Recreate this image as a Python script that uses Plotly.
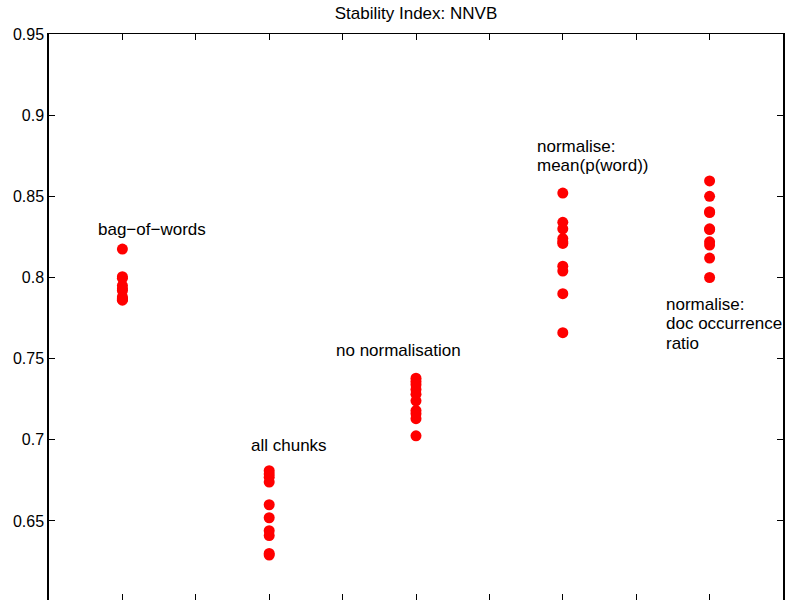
import plotly.graph_objects as go

# Data
group_x = [1, 3, 5, 7, 9]
bag_of_words = [0.8175, 0.8005, 0.7995, 0.795, 0.793, 0.792, 0.788, 0.787, 0.786, 0.7865]
all_chunks = [0.681, 0.679, 0.677, 0.674, 0.660, 0.652, 0.644, 0.641, 0.630, 0.629]
no_normalisation = [0.738, 0.736, 0.734, 0.731, 0.728, 0.724, 0.718, 0.716, 0.713, 0.7025]
norm_mean_p_word = [0.852, 0.834, 0.830, 0.824, 0.822, 0.821, 0.807, 0.804, 0.790, 0.766]
norm_doc_occ = [0.8595, 0.850, 0.8405, 0.840, 0.830, 0.8295, 0.822, 0.820, 0.812, 0.800]
series = [bag_of_words, all_chunks, no_normalisation, norm_mean_p_word, norm_doc_occ]

# label lines (text, x, y in data units)
label_texts = ["bag−of−words", "all chunks", "no normalisation",
               "normalise:", "mean(p(word))",
               "normalise:", "doc occurrence", "ratio"]
label_x = [0.64, 2.72, 3.883, 6.617, 6.617, 8.379, 8.379, 8.379]
label_y = [0.8293, 0.6968, 0.7553, 0.8804, 0.8693, 0.7831, 0.7714, 0.7596]

y_ticks = [0.65, 0.7, 0.75, 0.8, 0.85, 0.9, 0.95]
y_tick_text = ["0.65", "0.7", "0.75", "0.8", "0.85", "0.9", "0.95"]
x_ticks = [1, 2, 3, 4, 5, 6, 7, 8, 9]

FONT = "Liberation Sans, Arial, Helvetica, sans-serif"

fig = go.Figure()
for gx, vals in zip(group_x, series):
    fig.add_trace(go.Scatter(
        x=[gx] * len(vals), y=vals, mode="markers",
        marker=dict(color="#ff0000", size=11, line=dict(width=0)),
        showlegend=False, hoverinfo="y"))

for t, lx, ly in zip(label_texts, label_x, label_y):
    fig.add_annotation(x=lx, y=ly, xref="x", yref="y", text=t, showarrow=False,
                       xanchor="left", yanchor="middle", align="left",
                       font=dict(family=FONT, size=17, color="black"))

fig.update_layout(
    width=785, height=600,
    margin=dict(l=49, r=2, t=34, b=0),
    plot_bgcolor="white", paper_bgcolor="white",
    font=dict(family=FONT, size=16, color="black"),
    title=dict(text="Stability Index: NNVB", x=0.5, xref="paper", xanchor="center",
               y=1 - 13 / 600, yref="container", yanchor="middle",
               font=dict(family=FONT, size=17, color="black")),
    xaxis=dict(range=[0, 10], tickvals=x_ticks, showticklabels=False,
               ticks="inside", ticklen=6, tickcolor="black", showline=False,
               showgrid=False, zeroline=False),
    xaxis2=dict(range=[0, 10], tickvals=x_ticks, showticklabels=False, overlaying="x",
                side="top", ticks="inside", ticklen=6, tickcolor="black",
                showline=True, linecolor="black", linewidth=1,
                showgrid=False, zeroline=False),
    yaxis=dict(range=[0.95 - 566 / 1623.3, 0.95], tickvals=y_ticks, ticktext=y_tick_text,
               ticks="inside", ticklen=6, tickcolor="black", showline=True,
               linecolor="black", linewidth=1.5, mirror="ticks",
               showgrid=False, zeroline=False,
               tickfont=dict(family=FONT, size=16, color="black")),
)
fig.add_trace(go.Scatter(x=[None], y=[None], xaxis="x2", showlegend=False, hoverinfo="skip"))

fig.write_html("out.html")
